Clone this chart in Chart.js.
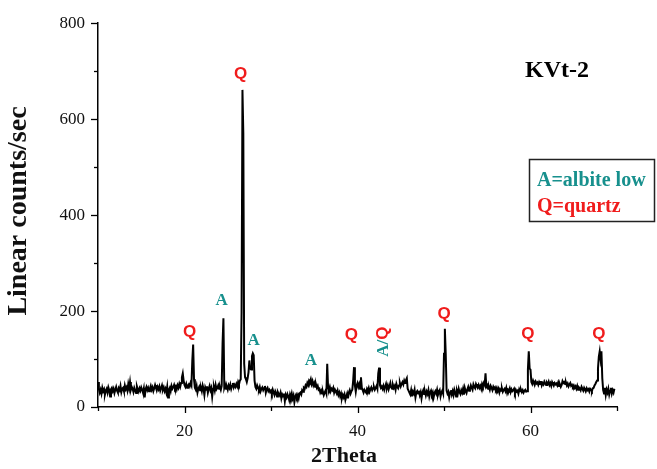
<!DOCTYPE html>
<html><head><meta charset="utf-8">
<script src="https://cdn.jsdelivr.net/npm/chart.js@4.4.0/dist/chart.umd.min.js"></script>
<style>html,body{margin:0;padding:0;background:#fff;} #wrap{width:657px;height:469px;position:relative}</style>
</head><body><div id="wrap"><canvas id="c" width="657" height="469"></canvas></div>
<script>
// XRD scan grid (2Theta, degrees)
const thetaStart = 10.0;
const thetaStep = 0.1;
// Linear counts/sec, one row per degree
const counts = [
 52,38,30,36,28,40,33,37,26,34, // 10
 38,30,41,35,22,37,40,33,38,29, // 11
 36,42,34,30,39,35,44,31,38,40, // 12
 33,45,37,41,34,48,39,52,36,42, // 13
 38,31,40,35,29,43,37,32,39,34, // 14
 41,36,30,39,20,37,42,35,40,33, // 15
 38,44,36,41,33,39,46,40,35,42, // 16
 37,43,34,39,45,36,41,33,38,30, // 17
 42,20,36,40,33,44,38,41,46,39, // 18
 43,37,45,40,48,42,50,62,70,55, // 19
 46,42,48,40,44,47,43,50,45,96, // 20
 130,58,40,36,44,30,38,42,35,40, // 21
 33,45,38,25,41,36,43,30,38,44, // 22
 35,40,22,38,42,34,46,37,40,45, // 23
 38,42,36,44,132,185,40,46,38,42, // 24
 36,45,40,47,38,44,50,41,46,42, // 25
 48,43,52,47,55,58,197,661,570,90, // 26
 62,58,52,60,72,97,80,78,106,112, // 27
 108,55,42,38,45,40,36,42,33,38, // 28
 41,35,39,44,30,37,40,33,36,31, // 29
 34,28,36,30,25,33,29,22,31,27, // 30
 24,30,18,26,22,28,12,25,20,27, // 31
 22,15,26,20,28,18,24,10,22,26, // 32
 20,25,18,28,30,26,35,32,40,38, // 33
 45,42,50,46,55,52,58,48,54,45, // 34
 50,42,47,40,44,36,38,30,34,28, // 35
 32,25,30,34,28,90,40,36,42,33, // 36
 38,35,40,30,36,32,28,34,25,30, // 37
 22,28,18,25,20,26,15,22,28,18, // 38
 30,35,28,33,36,55,83,45,32,45, // 39
 50,42,48,38,62,40,35,30,36,33, // 40
 30,38,34,40,32,37,41,35,39,42, // 41
 36,40,44,38,70,82,45,40,43,38, // 42
 44,36,42,48,39,45,37,43,50,41, // 43
 38,46,40,44,36,48,42,39,45,50, // 44
 43,48,52,47,55,50,56,60,38,34, // 45
 30,26,35,22,32,28,36,20,30,33, // 46
 28,34,25,31,18,30,35,27,32,24, // 47
 32,27,35,22,30,34,26,31,20,29, // 48
 33,28,36,25,31,35,22,30,34,28, // 49
 111,163,111,34,28,32,20,30,35,26, // 50
 33,25,36,30,22,34,28,38,31,27, // 51
 35,30,38,26,40,33,29,37,42,34, // 52
 38,45,40,36,47,42,39,48,44,41, // 53
 46,40,44,38,48,43,50,46,70,42, // 54
 45,38,42,36,44,40,35,42,38,41, // 55
 36,40,33,38,30,37,34,39,32,36, // 56
 38,33,40,30,36,34,39,31,37,33, // 57
 35,38,30,36,32,34,28,37,33,36, // 58
 31,35,30,34,36,32,33,78,116,80, // 59
 78,52,48,55,50,47,53,49,51,46, // 60
 52,48,54,45,50,47,53,49,46,51, // 61
 48,53,46,50,44,52,48,45,50,47, // 62
 49,45,51,44,47,42,46,54,50,52, // 63
 48,51,45,49,43,47,50,44,46,42, // 64
 45,40,43,38,44,36,41,39,35,42, // 65
 38,34,40,36,33,39,35,37,32,38, // 66
 36,33,39,40,45,48,52,55,80,105, // 67
 116,100,116,60,35,28,40,25,36,30, // 68
 38,26,34,40,28,35,30,38 // 69
];
const xTickLabels = [20, 40, 60];
const xMinorTicks = [10, 30, 50, 70];
const yTickLabels = [0, 200, 400, 600, 800];
const yMinorTicks = [100, 300, 500, 700];
const peakLabelText = ['Q', 'A', 'Q', 'A', 'A', 'Q', 'Q', 'Q', 'Q'];
const peakLabelX = [20.6, 24.3, 26.5, 28.0, 34.6, 39.3, 50.0, 59.7, 67.9];
const peakLabelY = [155, 222, 694, 138, 97, 149, 194, 151, 151];
const mixedLabelX = 43.0, mixedLabelY = 136; // rotated "A/Q"
const sampleName = 'KVt-2';
const legendLines = ['A=albite low', 'Q=quartz'];

const RED = '#f01c1c', TEAL = '#17908d';
const SERIF = '"Liberation Serif","Times New Roman",serif';
const SANS = '"Liberation Sans",Arial,sans-serif';

const points = counts.map((v, i) => ({x: +(thetaStart + i * thetaStep).toFixed(2), y: v}));

const deco = {
  id: 'deco',
  afterDraw(chart) {
    const ctx = chart.ctx, xs = chart.scales.x, ys = chart.scales.y;
    const a = chart.chartArea;
    ctx.save();
    ctx.strokeStyle = '#000'; ctx.lineWidth = 1.3;
    const vt = (v, len) => { const p = Math.round(xs.getPixelForValue(v)) + 0.5; ctx.beginPath(); ctx.moveTo(p, a.bottom); ctx.lineTo(p, a.bottom + len); ctx.stroke(); };
    const ht = (v, len) => { const p = Math.round(ys.getPixelForValue(v)) + 0.5; ctx.beginPath(); ctx.moveTo(a.left, p); ctx.lineTo(a.left - len, p); ctx.stroke(); };
    xTickLabels.forEach(v => vt(v, 6)); xMinorTicks.forEach(v => vt(v, 4));
    yTickLabels.forEach(v => ht(v, 7)); yMinorTicks.forEach(v => ht(v, 4));
    ctx.textAlign = 'center'; ctx.textBaseline = 'middle';
    peakLabelText.forEach((t, i) => {
      const px = xs.getPixelForValue(peakLabelX[i]), py = ys.getPixelForValue(peakLabelY[i]);
      if (t === 'Q') { ctx.fillStyle = RED; ctx.font = 'bold 17px ' + SANS; }
      else { ctx.fillStyle = TEAL; ctx.font = 'bold 17px ' + SERIF; }
      ctx.fillText(t, px, py);
    });
    {
      const px = xs.getPixelForValue(mixedLabelX), py = ys.getPixelForValue(mixedLabelY);
      ctx.save(); ctx.translate(px, py); ctx.rotate(-Math.PI / 2);
      ctx.font = 'bold 17px ' + SERIF; const w1 = ctx.measureText('A/').width;
      ctx.font = 'bold 17px ' + SANS; const w2 = ctx.measureText('Q').width;
      const x0 = -(w1 + w2) / 2;
      ctx.textAlign = 'left';
      ctx.fillStyle = TEAL; ctx.font = 'bold 17px ' + SERIF; ctx.fillText('A/', x0, 0);
      ctx.fillStyle = RED; ctx.font = 'bold 17px ' + SANS; ctx.fillText('Q', x0 + w1, 0);
      ctx.restore();
    }
    ctx.fillStyle = '#000'; ctx.font = 'bold 24px ' + SERIF; ctx.textAlign = 'center';
    ctx.fillText(sampleName, 557, 71);
    ctx.lineWidth = 1.5; ctx.strokeStyle = '#222';
    ctx.strokeRect(529.5, 159.5, 125, 62);
    ctx.textAlign = 'left'; ctx.font = 'bold 20px ' + SERIF;
    ctx.fillStyle = TEAL; ctx.fillText(legendLines[0], 537, 181);
    ctx.fillStyle = RED; ctx.fillText(legendLines[1], 537, 207);
    ctx.fillStyle = '#111'; ctx.textAlign = 'center';
    ctx.font = 'bold 22px ' + SERIF;
    ctx.fillText('2Theta', 344, 456);
    ctx.save(); ctx.translate(19, 211); ctx.rotate(-Math.PI / 2);
    ctx.font = 'bold 28px ' + SERIF; ctx.fillText('Linear counts/sec', 0, 0);
    ctx.restore();
    ctx.restore();
  }
};

new Chart(document.getElementById('c'), {
  type: 'line',
  data: { datasets: [{ data: points, borderColor: '#000', borderWidth: 2, pointRadius: 0, tension: 0, fill: false }] },
  options: {
    responsive: false, animation: false,
    layout: { padding: { left: 0, right: 40, top: 20, bottom: 0 } },
    plugins: { legend: { display: false }, tooltip: { enabled: false } },
    scales: {
      x: {
        type: 'linear', min: 10, max: 70,
        afterBuildTicks: s => { s.ticks = xTickLabels.map(v => ({ value: v })); },
        afterFit: s => { s.height = 62; },
        grid: { display: false, drawTicks: false },
        border: { display: true, color: '#000', width: 1.5 },
        ticks: { color: '#111', padding: 14, maxRotation: 0, font: { family: SERIF, size: 17 } }
      },
      y: {
        min: 0, max: 800,
        afterBuildTicks: s => { s.ticks = yTickLabels.map(v => ({ value: v })); },
        afterFit: s => { s.width = 98; },
        grid: { display: false, drawTicks: false },
        border: { display: true, color: '#000', width: 1.5 },
        ticks: { color: '#111', padding: 13, font: { family: SERIF, size: 17 } }
      }
    }
  },
  plugins: [deco]
});
</script></body></html>
